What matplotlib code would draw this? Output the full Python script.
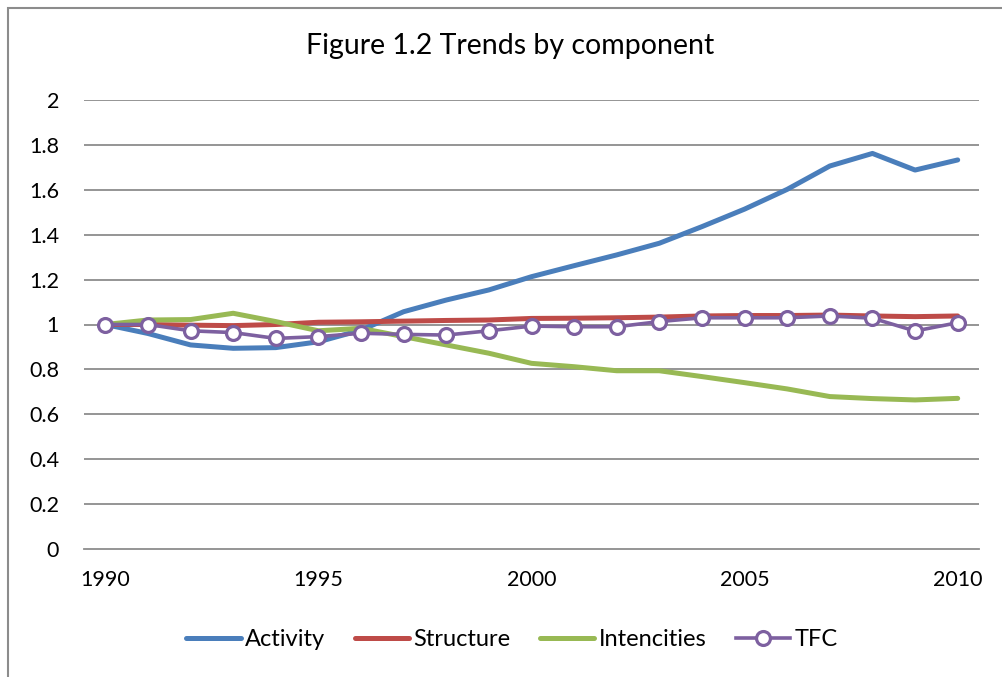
import matplotlib
matplotlib.use("Agg")
import matplotlib.pyplot as plt
from matplotlib.patches import Rectangle

years = list(range(1990, 2011))
activity = [1.00, 0.96, 0.909, 0.894, 0.897, 0.923, 0.975, 1.057, 1.109, 1.154, 1.213,
            1.262, 1.31, 1.362, 1.436, 1.514, 1.602, 1.706, 1.762, 1.688, 1.733]
structure = [1.00, 1.00, 0.997, 0.995, 1.00, 1.01, 1.012, 1.015, 1.018, 1.02, 1.027,
             1.028, 1.03, 1.033, 1.038, 1.04, 1.04, 1.042, 1.038, 1.035, 1.038]
intencities = [1.00, 1.02, 1.022, 1.05, 1.013, 0.972, 0.983, 0.946, 0.909, 0.872, 0.827,
               0.812, 0.794, 0.794, 0.768, 0.741, 0.713, 0.679, 0.670, 0.664, 0.671]
tfc = [1.00, 1.00, 0.972, 0.964, 0.938, 0.946, 0.961, 0.956, 0.953, 0.972, 0.993,
       0.990, 0.990, 1.013, 1.030, 1.030, 1.030, 1.038, 1.028, 0.971, 1.008]

title = "Figure 1.2 Trends by component"
x_ticks = [1990, 1995, 2000, 2005, 2010]
y_ticks = [0, 0.2, 0.4, 0.6, 0.8, 1, 1.2, 1.4, 1.6, 1.8, 2]
y_tick_labels = ["0", "0.2", "0.4", "0.6", "0.8", "1", "1.2", "1.4", "1.6", "1.8", "2"]

plt.rcParams["font.family"] = ["Lato", "DejaVu Sans"]

W, H = 1002, 677
fig = plt.figure(figsize=(W / 100, H / 100), dpi=100)

# chart frame
fig.patches.append(Rectangle((8 / W, -0.05), 1.2, 1 - 8 / H + 0.05, transform=fig.transFigure,
                             fill=False, edgecolor="#8c8c8c", linewidth=1.5))

ax = fig.add_axes([84 / W, 1 - 549 / H, (979 - 84) / W, (549 - 100) / H])
ax.set_xlim(1989.5, 2010.5)
ax.set_ylim(0, 2)

grid_c = "#8c8c8c"
for y in y_ticks[1:]:
    ax.axhline(y, color=grid_c, linewidth=1.3, zorder=1)
for s in ["top", "right", "left"]:
    ax.spines[s].set_visible(False)
ax.spines["bottom"].set_color(grid_c)
ax.spines["bottom"].set_linewidth(1.3)

ax.plot(years, activity, color="#4A7EBB", linewidth=3.6, solid_capstyle="round", label="Activity", zorder=3)
ax.plot(years, structure, color="#BE4B48", linewidth=3.6, solid_capstyle="round", label="Structure", zorder=3)
ax.plot(years, intencities, color="#98B954", linewidth=3.6, solid_capstyle="round", label="Intencities", zorder=3)
ax.plot(years, tfc, color="#7D60A0", linewidth=2.6, marker="o", markersize=10,
        markerfacecolor="white", markeredgecolor="#7D60A0", markeredgewidth=2.3,
        label="TFC", zorder=4)

ax.set_xticks(x_ticks)
ax.set_xticklabels([str(v) for v in x_ticks], fontsize=15.5)
ax.set_yticks(y_ticks)
ax.set_yticklabels(y_tick_labels, fontsize=15.5)
ax.tick_params(axis="both", length=0, colors="black")
ax.tick_params(axis="x", pad=15)
ax.tick_params(axis="y", pad=18)

fig.text(510 / W, 1 - 46 / H, title, ha="center", va="center", fontsize=20.5)

fig.legend(loc="center", bbox_to_anchor=(512 / W, 1 - 640 / H), ncol=4, frameon=False,
           fontsize=17, handlelength=2.3, columnspacing=1.25, handletextpad=0.18)

fig.savefig("out.png", dpi=100)
